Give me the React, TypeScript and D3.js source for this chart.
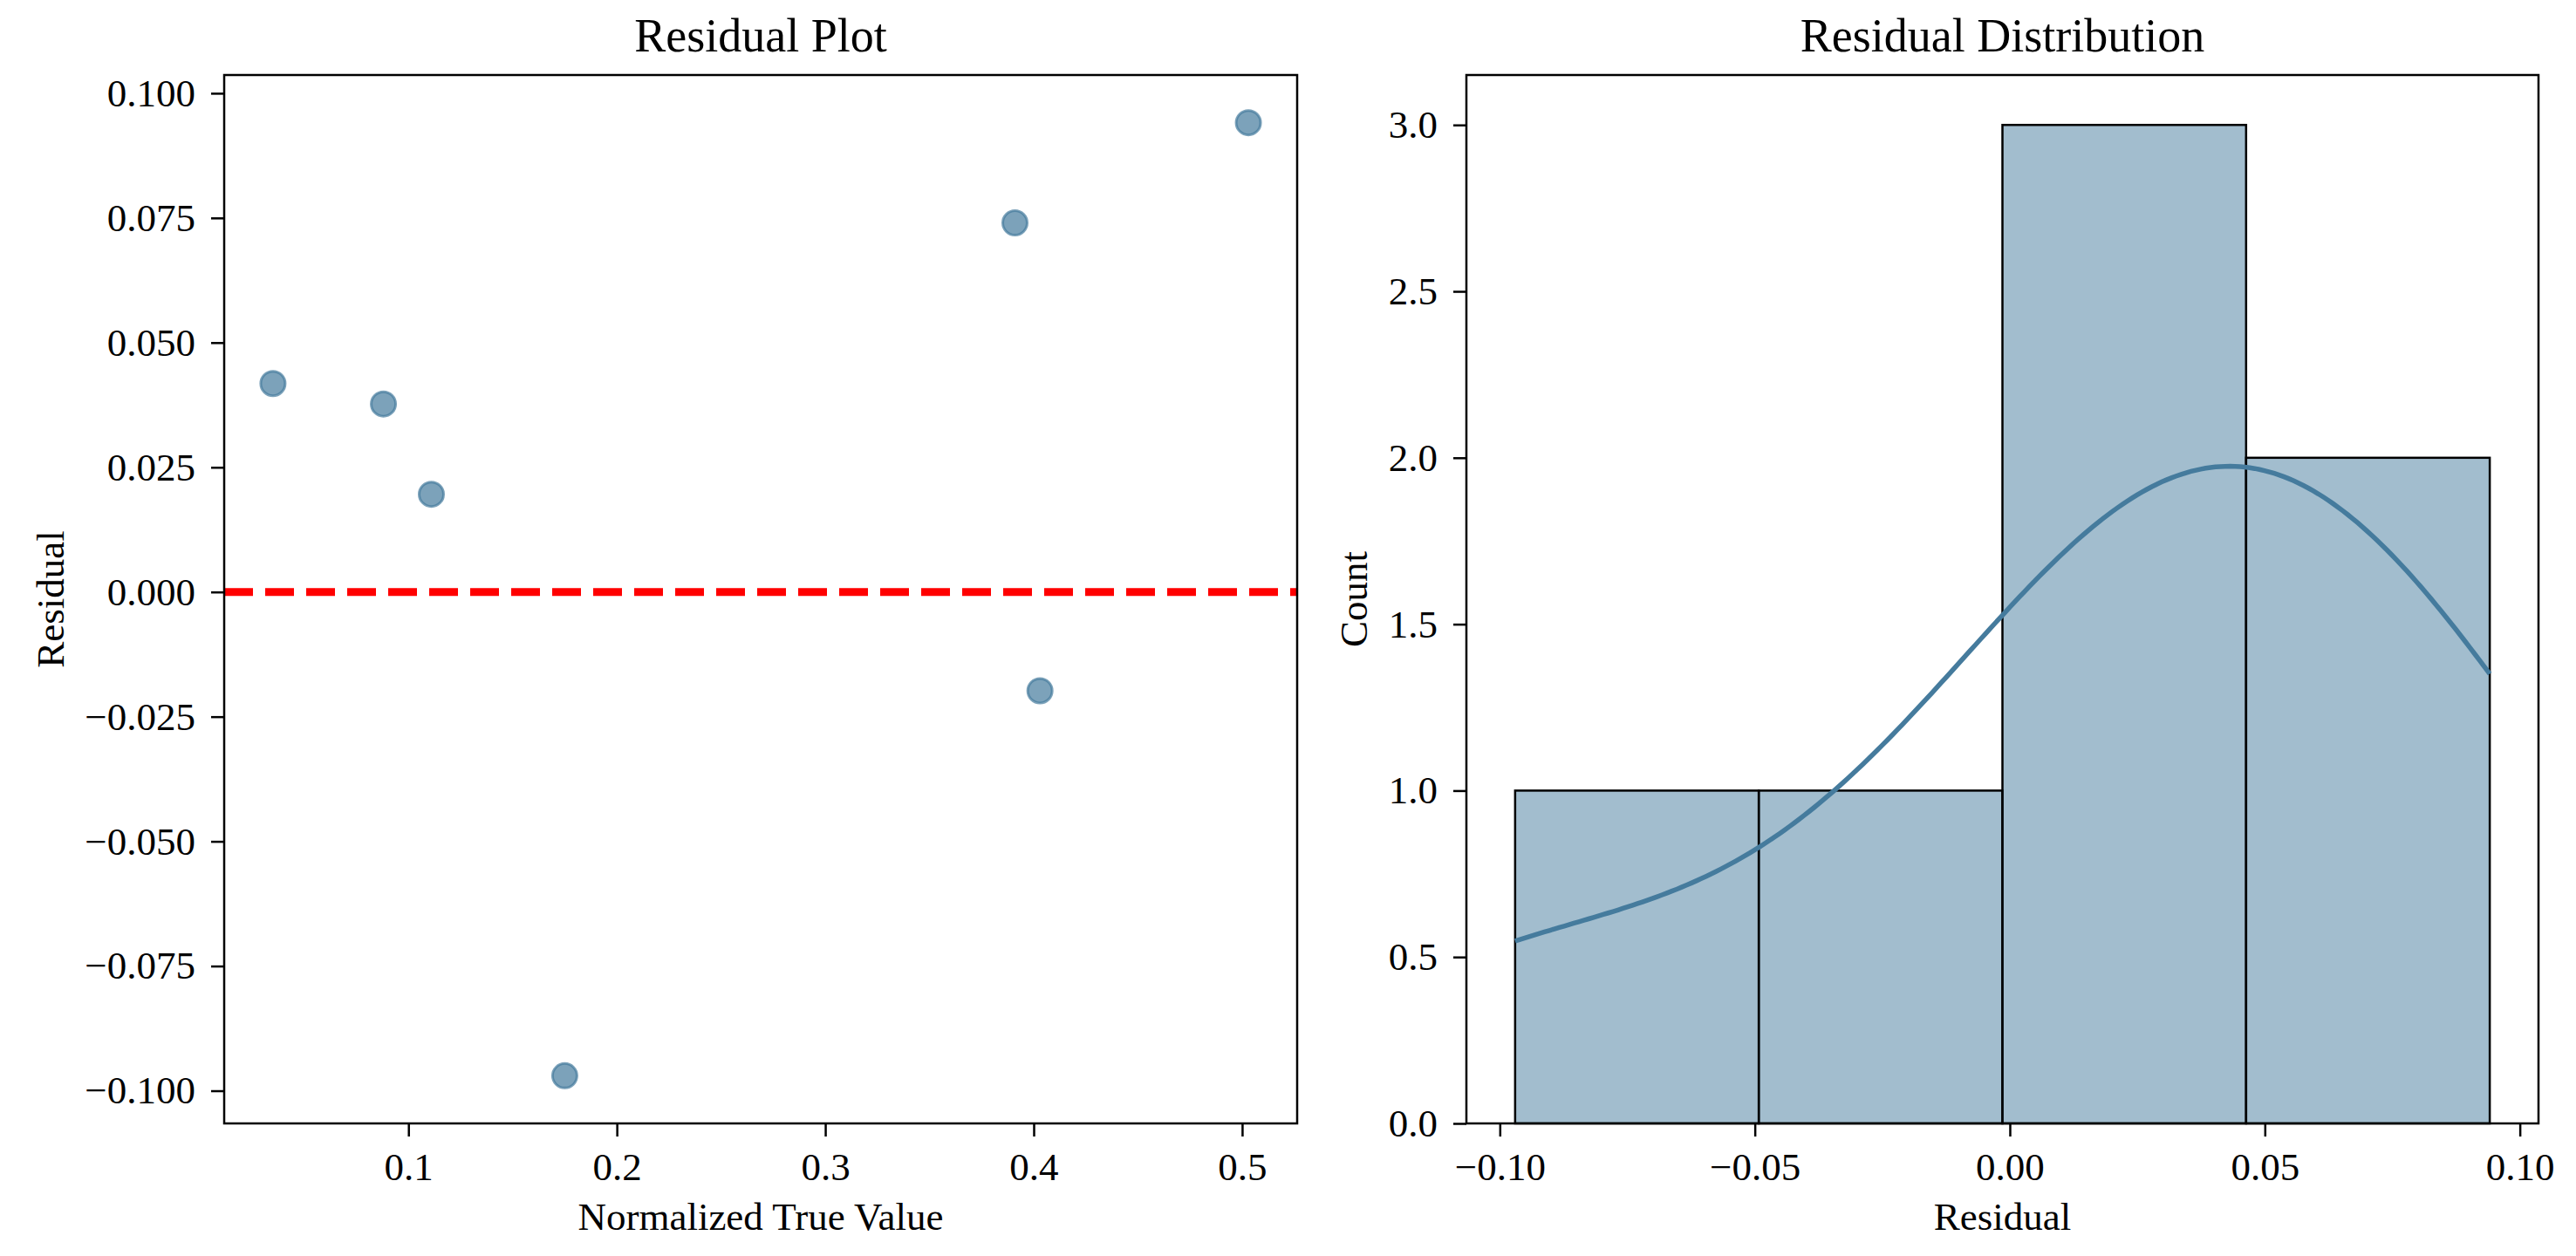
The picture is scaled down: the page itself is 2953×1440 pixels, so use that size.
import { useEffect, useRef } from 'react';
import * as d3 from 'd3';

// scatter data
const trueValues = [0.035, 0.088, 0.111, 0.175, 0.391, 0.403, 0.503];
const residuals = [0.0418, 0.0377, 0.0196, -0.097, 0.074, -0.0198, 0.0941];

const residualTicks = [-0.1, -0.075, -0.05, -0.025, 0, 0.025, 0.05, 0.075, 0.1];
const trueValueTicks = [0.1, 0.2, 0.3, 0.4, 0.5];
const histXTicks = [-0.1, -0.05, 0, 0.05, 0.1];
const countTicks = [0, 0.5, 1, 1.5, 2, 2.5, 3];
const binCount = 4;

const WIDTH = 2953;
const HEIGHT = 1440;
const FONT = '"Liberation Serif", "Times New Roman", serif';
const COLOR = '#457b9d';

const padded = (ext: [number, number]) => {
    const r = ext[1] - ext[0];
    return [ext[0] - r * 0.05, ext[1] + r * 0.05];
};

export default function App() {
    const svgRef = useRef<SVGSVGElement>(null);

    useEffect(() => {
        if (!svgRef.current) return;
        const svg = d3.select(svgRef.current);
        svg.selectAll('*').remove();

        const top = 86;
        const bottom = 1288;
        const panels = [
            { left: 257, right: 1487 },
            { left: 1681, right: 2910 }
        ];

        const styleAxis = (g: any) => {
            g.select('.domain').remove();
            g.selectAll('.tick line').attr('stroke', '#000').attr('stroke-width', 2.5);
            g.selectAll('.tick text')
                .attr('font-family', FONT)
                .attr('font-size', 45)
                .attr('fill', '#000');
        };

        const drawFrame = (g: any, w: number, h: number, title: string, xlab: string, ylab: string, ylabX: number) => {
            g.append('rect')
                .attr('width', w)
                .attr('height', h)
                .attr('fill', 'none')
                .attr('stroke', '#000')
                .attr('stroke-width', 2.5);
            g.append('text')
                .attr('x', w / 2)
                .attr('y', -27)
                .attr('text-anchor', 'middle')
                .attr('font-family', FONT)
                .attr('font-size', 54)
                .text(title);
            g.append('text')
                .attr('x', w / 2)
                .attr('y', h + 122)
                .attr('text-anchor', 'middle')
                .attr('font-family', FONT)
                .attr('font-size', 45)
                .text(xlab);
            g.append('text')
                .attr('transform', `translate(${ylabX},${h / 2}) rotate(-90)`)
                .attr('text-anchor', 'middle')
                .attr('font-family', FONT)
                .attr('font-size', 45)
                .text(ylab);
        };

        // ---- Residual plot ----
        {
            const p = panels[0];
            const w = p.right - p.left;
            const h = bottom - top;
            const g = svg.append('g').attr('transform', `translate(${p.left},${top})`);

            const x = d3.scaleLinear()
                .domain(padded(d3.extent(trueValues) as [number, number]))
                .range([0, w]);
            const y = d3.scaleLinear()
                .domain(padded(d3.extent(residuals) as [number, number]))
                .range([h, 0]);

            g.append('line')
                .attr('x1', 0)
                .attr('x2', w)
                .attr('y1', y(0))
                .attr('y2', y(0))
                .attr('stroke', '#ff0000')
                .attr('stroke-width', 9)
                .attr('stroke-dasharray', '33 14');

            g.selectAll('.pt')
                .data(trueValues)
                .enter()
                .append('circle')
                .attr('cx', d => x(d))
                .attr('cy', (_, i) => y(residuals[i]))
                .attr('r', 14)
                .attr('fill', COLOR)
                .attr('fill-opacity', 0.7)
                .attr('stroke', COLOR)
                .attr('stroke-opacity', 0.7)
                .attr('stroke-width', 3);

            g.append('g')
                .attr('transform', `translate(0,${h})`)
                .call(d3.axisBottom(x).tickValues(trueValueTicks).tickFormat(d3.format('.1f')).tickSize(15).tickPadding(18))
                .call(styleAxis);
            g.append('g')
                .call(d3.axisLeft(y).tickValues(residualTicks).tickFormat(d3.format('.3f')).tickSize(15).tickPadding(18))
                .call(styleAxis);

            drawFrame(g, w, h, 'Residual Plot', 'Normalized True Value', 'Residual', 73 - p.left);
        }

        // ---- Residual distribution ----
        {
            const p = panels[1];
            const w = p.right - p.left;
            const h = bottom - top;
            const g = svg.append('g').attr('transform', `translate(${p.left},${top})`);

            const [lo, hi] = d3.extent(residuals) as [number, number];
            const step = (hi - lo) / binCount;
            const thresholds = d3.range(1, binCount).map(i => lo + i * step);
            const bins = d3.bin().domain([lo, hi]).thresholds(thresholds)(residuals);

            const x = d3.scaleLinear().domain(padded([lo, hi])).range([0, w]);
            const maxCount = d3.max(bins, b => b.length) || 1;
            const y = d3.scaleLinear().domain([0, maxCount * 1.05]).range([h, 0]);

            g.selectAll('.bar')
                .data(bins)
                .enter()
                .append('rect')
                .attr('x', d => x(d.x0!))
                .attr('y', d => y(d.length))
                .attr('width', d => x(d.x1!) - x(d.x0!))
                .attr('height', d => h - y(d.length))
                .attr('fill', COLOR)
                .attr('fill-opacity', 0.5)
                .attr('stroke', '#000')
                .attr('stroke-width', 2.5);

            // gaussian KDE (Scott's rule), scaled to counts, cut at data range
            const n = residuals.length;
            const sd = d3.deviation(residuals) || 1;
            const bw = sd * Math.pow(n, -1 / 5);
            const grid = d3.range(200).map(i => lo + (i / 199) * (hi - lo));
            const kde = grid.map(v => {
                const dens = d3.sum(residuals, r => Math.exp(-0.5 * ((v - r) / bw) ** 2)) /
                    (n * bw * Math.sqrt(2 * Math.PI));
                return [v, dens * n * step] as [number, number];
            });
            g.append('path')
                .datum(kde)
                .attr('fill', 'none')
                .attr('stroke', COLOR)
                .attr('stroke-width', 5.5)
                .attr('d', d3.line<[number, number]>().x(d => x(d[0])).y(d => y(d[1])));

            g.append('g')
                .attr('transform', `translate(0,${h})`)
                .call(d3.axisBottom(x).tickValues(histXTicks).tickFormat(d3.format('.2f')).tickSize(15).tickPadding(18))
                .call(styleAxis);
            g.append('g')
                .call(d3.axisLeft(y).tickValues(countTicks).tickFormat(d3.format('.1f')).tickSize(15).tickPadding(18))
                .call(styleAxis);

            drawFrame(g, w, h, 'Residual Distribution', 'Residual', 'Count', 1567 - p.left);
        }
    }, []);

    return (
        <svg
            ref={svgRef}
            width={WIDTH}
            height={HEIGHT}
            style={{ position: 'absolute', left: 0, top: 0, background: '#fff' }}
        />
    );
}
